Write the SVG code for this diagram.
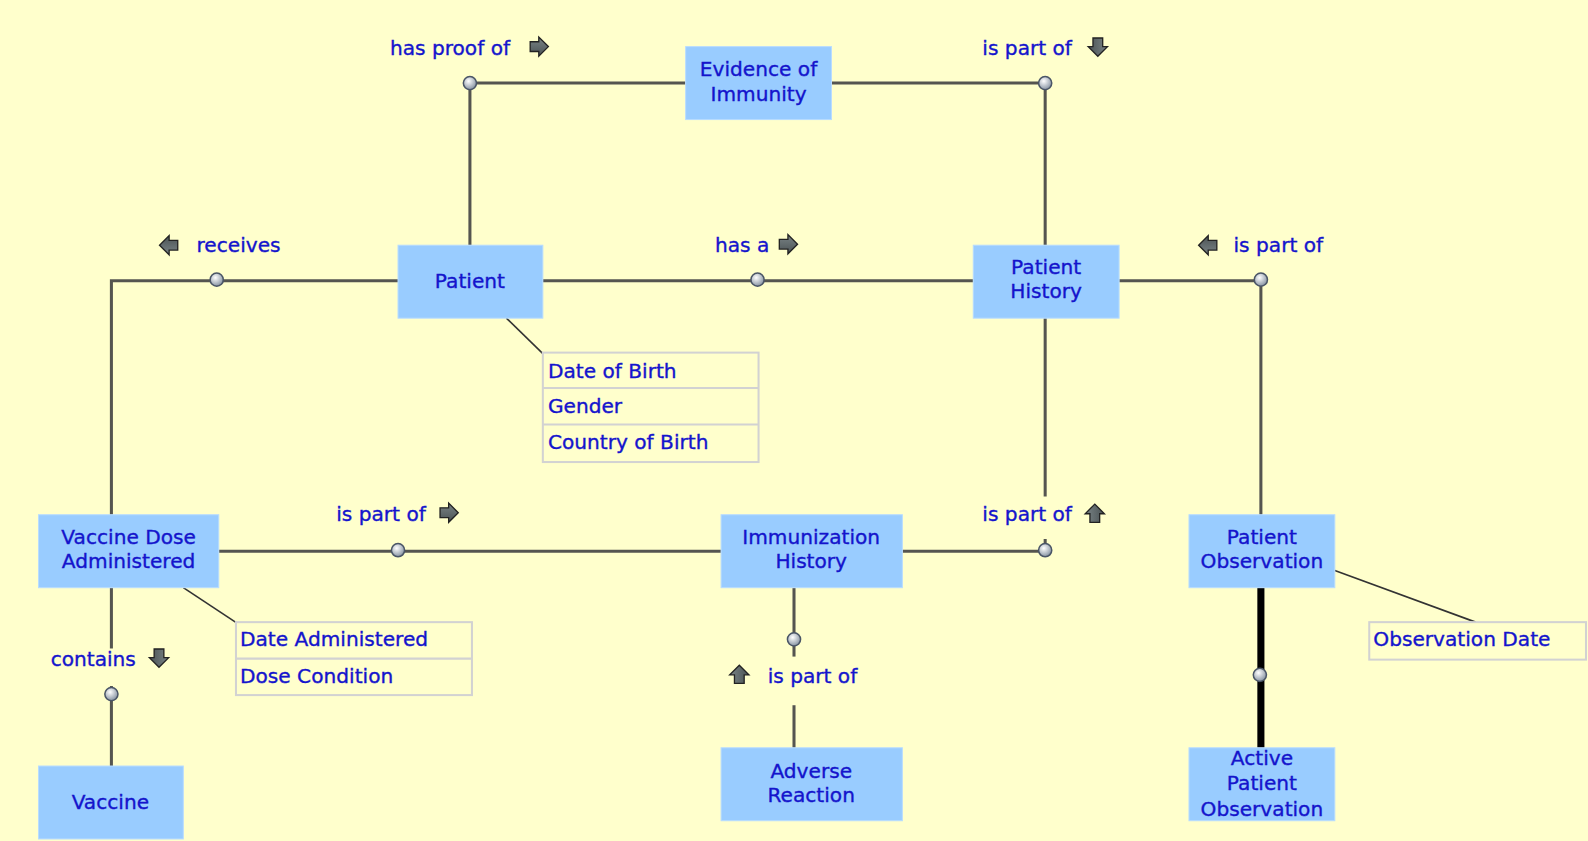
<svg xmlns="http://www.w3.org/2000/svg" width="1588" height="841" viewBox="0 0 1588 841">
<defs>
<style>
.node rect{fill:#99ccff;stroke:#b8dcff;stroke-width:1}
.t{font-family:"DejaVu Sans",Verdana,sans-serif;font-size:19.9px;fill:#1414cc;stroke:#1414cc;stroke-width:0.35}
.c{text-anchor:middle}
.ln{fill:none;stroke:#555550;stroke-width:3}
.thick{fill:none;stroke:#000;stroke-width:7}
.al{fill:none;stroke:#333;stroke-width:1.6}
.attr rect{fill:#ffffcc;stroke:#d2d2d2;stroke-width:2}
.attr line{stroke:#d2d2d2;stroke-width:2}
</style>
<radialGradient id="dg" cx="0.4" cy="0.35" r="0.7">
<stop offset="0" stop-color="#ffffff"/>
<stop offset="1" stop-color="#7f8c9c"/>
</radialGradient>
<linearGradient id="ag" x1="0" y1="0" x2="0" y2="1">
<stop offset="0" stop-color="#7a8486"/>
<stop offset="1" stop-color="#4a5254"/>
</linearGradient>
<circle id="dot" r="6.5" fill="url(#dg)" stroke="#4a5566" stroke-width="1.5"/>
<path id="arr" d="M-8.5,-4.8 L0,-4.8 L0,-9.5 L9.5,0 L0,9.5 L0,4.8 L-8.5,4.8 Z" fill="url(#ag)" stroke="#222" stroke-width="1.3"/>
</defs>
<rect width="1588" height="841" fill="#ffffcc"/>
<g transform="scale(1.01276,1.01325)">
<g id="connectors">
<polyline class="ln" points="464,242 464,82 677,82"/>
<polyline class="ln" points="821,82 1032,82 1032,242"/>
<polyline class="ln" points="393,277 110,277 110,508"/>
<line class="ln" x1="536" y1="277" x2="961" y2="277"/>
<polyline class="ln" points="1105,277 1245,277 1245,508"/>
<line class="ln" x1="216" y1="544" x2="712" y2="544"/>
<polyline class="ln" points="891,544 1032,544 1032,532"/>
<line class="ln" x1="1032" y1="314" x2="1032" y2="490"/>
<line class="ln" x1="784" y1="580" x2="784" y2="648"/>
<line class="ln" x1="784" y1="696" x2="784" y2="738"/>
<line class="ln" x1="110" y1="580" x2="110" y2="640"/>
<line class="ln" x1="110" y1="677" x2="110" y2="756"/>
<line class="thick" x1="1245" y1="580" x2="1245" y2="738"/>
<line class="al" x1="500" y1="314" x2="536" y2="349"/>
<line class="al" x1="181" y1="580" x2="234" y2="615"/>
<line class="al" x1="1318" y1="563" x2="1457" y2="614"/>
<use href="#dot" x="464" y="82"/>
<use href="#dot" x="1032" y="82"/>
<use href="#dot" x="214" y="276"/>
<use href="#dot" x="748" y="276"/>
<use href="#dot" x="1245" y="276"/>
<use href="#dot" x="393" y="543"/>
<use href="#dot" x="1032" y="543"/>
<use href="#dot" x="784" y="631"/>
<use href="#dot" x="110" y="685"/>
<use href="#dot" x="1244" y="666"/>
<text class="t" x="385" y="54">has proof of</text>
<use href="#arr" transform="translate(532,46)"/>
<text class="t" x="970" y="54">is part of</text>
<use href="#arr" transform="translate(1084,46) rotate(90)"/>
<text class="t" x="194" y="249">receives</text>
<use href="#arr" transform="translate(167,242) rotate(180)"/>
<text class="t" x="706" y="249">has a</text>
<use href="#arr" transform="translate(778,241)"/>
<text class="t" x="1218" y="249">is part of</text>
<use href="#arr" transform="translate(1193,242) rotate(180)"/>
<text class="t" x="332" y="514">is part of</text>
<use href="#arr" transform="translate(443,506)"/>
<text class="t" x="970" y="514">is part of</text>
<use href="#arr" transform="translate(1081,507) rotate(-90)"/>
<text class="t" x="758" y="674">is part of</text>
<use href="#arr" transform="translate(730,666) rotate(-90)"/>
<text class="t" x="50" y="657">contains</text>
<use href="#arr" transform="translate(157,649) rotate(90)"/>
</g>

<g id="evidence" class="node">
<rect x="677" y="46" width="144" height="72"/>
<text class="t c" x="749" y="75">Evidence of</text>
<text class="t c" x="749" y="100">Immunity</text>
</g>
<g id="patient" class="node">
<rect x="393" y="242" width="143" height="72"/>
<text class="t c" x="464" y="284">Patient</text>
</g>
<g id="patient-history" class="node">
<rect x="961" y="242" width="144" height="72"/>
<text class="t c" x="1033" y="270">Patient</text>
<text class="t c" x="1033" y="294">History</text>
</g>
<g id="vaccine-dose" class="node">
<rect x="38" y="508" width="178" height="72"/>
<text class="t c" x="127" y="537">Vaccine Dose</text>
<text class="t c" x="127" y="561">Administered</text>
</g>
<g id="immunization-history" class="node">
<rect x="712" y="508" width="179" height="72"/>
<text class="t c" x="801" y="537">Immunization</text>
<text class="t c" x="801" y="561">History</text>
</g>
<g id="patient-observation" class="node">
<rect x="1174" y="508" width="144" height="72"/>
<text class="t c" x="1246" y="537">Patient</text>
<text class="t c" x="1246" y="561">Observation</text>
</g>
<g id="vaccine" class="node">
<rect x="38" y="756" width="143" height="72"/>
<text class="t c" x="109" y="798">Vaccine</text>
</g>
<g id="adverse-reaction" class="node">
<rect x="712" y="738" width="179" height="72"/>
<text class="t c" x="801" y="768">Adverse</text>
<text class="t c" x="801" y="792">Reaction</text>
</g>
<g id="active-patient-observation" class="node">
<rect x="1174" y="738" width="144" height="72"/>
<text class="t c" x="1246" y="755">Active</text>
<text class="t c" x="1246" y="780">Patient</text>
<text class="t c" x="1246" y="805">Observation</text>
</g>

<g id="patient-attributes" class="attr">
<rect x="536" y="348" width="213" height="108"/>
<line x1="536" y1="383" x2="749" y2="383"/>
<line x1="536" y1="419" x2="749" y2="419"/>
<text class="t" x="541" y="373">Date of Birth</text>
<text class="t" x="541" y="408">Gender</text>
<text class="t" x="541" y="443">Country of Birth</text>
</g>
<g id="dose-attributes" class="attr">
<rect x="233" y="614" width="233" height="72"/>
<line x1="233" y1="650" x2="466" y2="650"/>
<text class="t" x="237" y="638">Date Administered</text>
<text class="t" x="237" y="674">Dose Condition</text>
</g>
<g id="observation-attributes" class="attr">
<rect x="1352" y="614" width="214" height="37"/>
<text class="t" x="1356" y="638">Observation Date</text>
</g>
</g>
</svg>
